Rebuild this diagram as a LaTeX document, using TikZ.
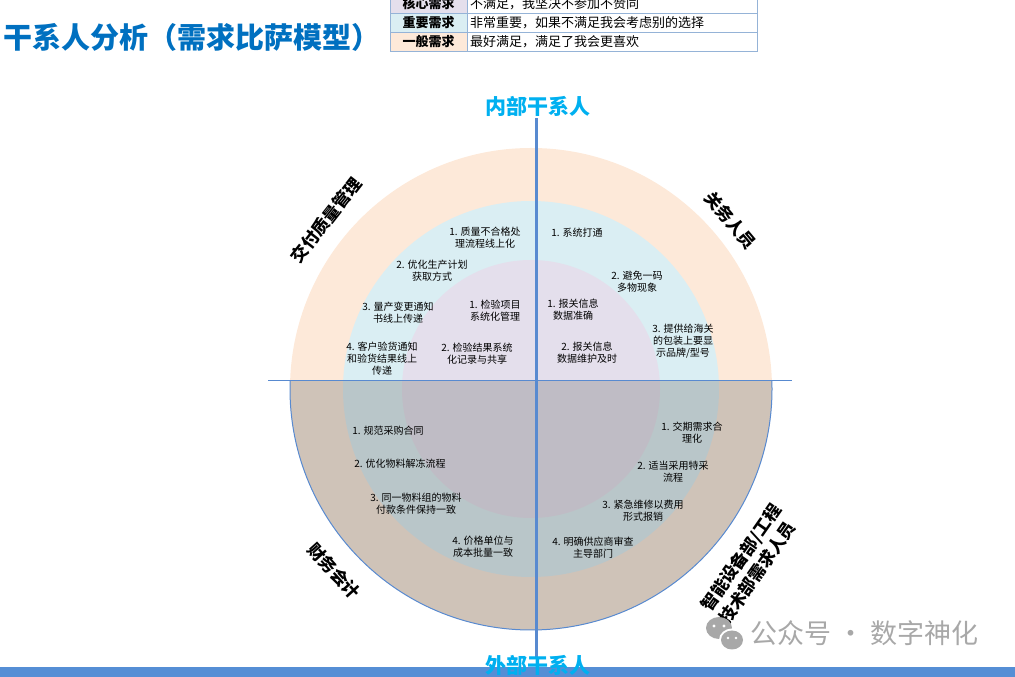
\documentclass[tikz,border=0pt]{standalone}
\usepackage{fontspec}
\setmainfont{Noto Sans CJK SC}
\usetikzlibrary{positioning, calc}
\definecolor{peach}{RGB}{253,233,217}
\definecolor{iceblue}{RGB}{218,238,243}
\definecolor{lilac}{RGB}{228,223,236}
\definecolor{titleblue}{RGB}{0,112,192}
\definecolor{cyanblue}{RGB}{0,176,240}
\definecolor{axisblue}{RGB}{88,138,208}
\definecolor{gridblue}{RGB}{149,179,215}
\definecolor{barblue}{RGB}{85,142,213}
\definecolor{markgray}{RGB}{168,168,168}

\begin{document}
\begin{tikzpicture}[
    x=1pt, y=1pt,
    every node/.style={inner sep=0pt, outer sep=0pt},
    item/.style={font=\fontsize{10}{12}\selectfont, align=center},
    ringlabel/.style={font=\fontsize{17}{20}\selectfont\bfseries},
    sidelabel/.style={font=\fontsize{21}{24}\selectfont\bfseries, text=cyanblue},
    keycell/.style={draw=gridblue, line width=0.8pt, minimum height=19pt, anchor=north west,
        font=\fontsize{13}{14}\selectfont}
]
    \useasboundingbox (0,0) rectangle (1015,677);

    % title and legend
    \node[font=\fontsize{29}{31}\selectfont\bfseries, text=titleblue, anchor=west] (title) at (3,640) {干系人分析（需求比萨模型）};

    \node[keycell, fill=lilac, minimum width=77pt, font=\fontsize{13}{14}\selectfont\bfseries] (k1) at (390,683) {核心需求};
    \node[keycell, fill=iceblue, minimum width=77pt, font=\fontsize{13}{14}\selectfont\bfseries, below=0pt of k1.south west, anchor=north west] (k2) {重要需求};
    \node[keycell, fill=peach, minimum width=77pt, font=\fontsize{13}{14}\selectfont\bfseries, below=0pt of k2.south west, anchor=north west] (k3) {一般需求};
    \node[keycell, minimum width=290pt, text width=284pt, right=0pt of k1.north east, anchor=north west] (v1) {不满足，我坚决不参加不赞同};
    \node[keycell, minimum width=290pt, text width=284pt, right=0pt of k2.north east, anchor=north west] (v2) {非常重要，如果不满足我会考虑别的选择};
    \node[keycell, minimum width=290pt, text width=284pt, right=0pt of k3.north east, anchor=north west] (v3) {最好满足，满足了我会更喜欢};

    % pizza rings
    \coordinate (ctr) at (531,288);
    \fill[peach] (ctr) circle (241);
    \fill[iceblue] (ctr) circle (188);
    \fill[lilac] (ctr) circle (129);
    \begin{scope}
        \clip (0,0) rectangle (1015,296);
        \fill[black!50, opacity=0.36] (ctr) circle (241);
        \draw[axisblue, line width=1pt] (ctr) circle (241);
    \end{scope}

    % axes
    \coordinate (hleft) at (268,296);
    \coordinate (hright) at (792,296);
    \draw[axisblue, line width=1pt] (hleft) -- (hright);
    \node[sidelabel] (inner) at (538,571) {内部干系人};
    \coordinate (vbot) at (536,20);
    \draw[axisblue, line width=3pt] (inner.south) ++(-2,-2) -- (vbot);
    \fill[barblue] (0,0) rectangle (1015,10);
    \node[sidelabel] (outer) at (538,12) {外部干系人};

    % stakeholder groups
    \node[ringlabel, rotate=52] (quality) at (326,457) {交付质量管理};
    \node[ringlabel, rotate=-50] (customs) at (730,457) {关务人员};
    \node[ringlabel, rotate=-48] (finance) at (334,106) {财务会计};
    \node[ringlabel, rotate=55, align=left, font=\fontsize{17}{22}\selectfont\bfseries] (tech) at (750,113) {智能设备部/工程\\技术部需求人员};

    % upper left
    \node[item] (q1) at (485,439) {1. 质量不合格处\\理流程线上化};
    \node[item] (q2) at (432,406) {2. 优化生产计划\\获取方式};
    \node[item] (q3) at (398,364) {3. 量产变更通知\\书线上传递};
    \node[item] (q4) at (382,318) {4. 客户验货通知\\和验货结果线上\\传递};
    \node[item] (q5) at (495,366) {1. 检验项目\\系统化管理};
    \node[item] (q6) at (477,323) {2. 检验结果系统\\化记录与共享};

    % upper right
    \node[item] (c1) at (577,444) {1. 系统打通};
    \node[item] (c2) at (637,395) {2. 避免一码\\多物现象};
    \node[item] (c3) at (683,336) {3. 提供给海关\\的包装上要显\\示品牌/型号};
    \node[item] (c4) at (573,367) {1. 报关信息\\数据准确};
    \node[item] (c5) at (587,324) {2. 报关信息\\数据维护及时};

    % lower left
    \node[item] (f1) at (388,246) {1. 规范采购合同};
    \node[item] (f2) at (400,213) {2. 优化物料解冻流程};
    \node[item] (f3) at (416,173) {3. 同一物料组的物料\\付款条件保持一致};
    \node[item] (f4) at (483,130) {4. 价格单位与\\成本批量一致};

    % lower right
    \node[item] (t1) at (692,244) {1. 交期需求合\\理化};
    \node[item] (t2) at (673,205) {2. 适当采用特采\\流程};
    \node[item] (t3) at (643,166) {3. 紧急维修以费用\\形式报销};
    \node[item] (t4) at (593,129) {4. 明确供应商审查\\主导部门};

    % watermark
    \fill[markgray] (719,49) ellipse (13 and 11);
    \fill[white] (732,37) ellipse (13 and 11.5);
    \fill[markgray] (732,37) ellipse (11 and 9.5);
    \fill[white] (714,51) circle (1.6) (724,51) circle (1.6) (728,39) circle (1.4) (736,39) circle (1.4);
    \node[font=\fontsize{27}{29}\selectfont, text=markgray, anchor=west] (mark) at (750,44) {公众号 · 数字神化};
\end{tikzpicture}
\end{document}
